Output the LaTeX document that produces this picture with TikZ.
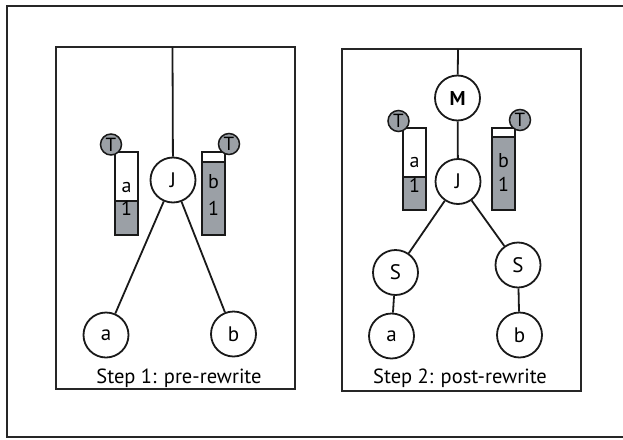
\documentclass[tikz,border=0pt]{standalone}
\usepackage{fontspec}
\setmainfont{PT Sans}
\definecolor{cellgray}{RGB}{155,160,166}
\begin{document}
\begin{tikzpicture}[x=1pt,y=-1pt,
  frame/.style={draw=black!85, line width=2.6pt},
  outer/.style={draw=black!85, line width=2pt},
  vtx/.style={circle, draw=black!90, line width=1.8pt, fill=white, minimum size=45pt, inner sep=0pt, font=\fontsize{21}{21}\selectfont},
  mvtx/.style={vtx, font=\fontsize{20}{20}\selectfont\bfseries},
  tag/.style={circle, draw=black!90, line width=1.5pt, fill=cellgray, minimum size=21pt, inner sep=0pt, font=\fontsize{19}{19}\selectfont},
  cellw/.style={rectangle, draw=black!90, line width=2pt, fill=white, minimum width=23pt, inner sep=0pt},
  cellg/.style={cellw, fill=cellgray},
  celltext/.style={anchor=base, inner sep=0pt, font=\fontsize{20}{20}\selectfont},
  edge/.style={draw=black!90, line width=1.8pt},
  caption/.style={anchor=base, inner sep=0pt, font=\fontsize{20.5}{20.5}\selectfont}]
\useasboundingbox (0,0) rectangle (623,439);

% outer frame (its right side runs past the page edge) and the two panels
\draw[outer] (6.5,5.5) rectangle (630,436.5);
\draw[frame] (56,47) rectangle (295,389);
\draw[frame] (342,49) rectangle (581,391);

% ---------- Step 1 ----------
\coordinate (top1) at (172.5,47);
\node[vtx] (J1) at (173,180) {J};
\node[vtx] (a1) at (106,335) {a};
\node[vtx] (b1) at (233.5,334) {b};
\draw[edge] (top1) -- (J1);
\draw[edge] (J1) -- (a1);
\draw[edge] (J1) -- (b1);

% tuple cells beside J
\node[cellw, minimum height=49pt] (ca1) at (126.5,176.5) {};
\node[cellg, minimum height=34pt] (cb1) at (126.5,218) {};
\node[celltext] (ta1) at (126.5,192) {a};
\node[celltext] (tn1) at (126.5,215) {1};
\node[tag] (T1) at (111,144.5) {T};

\node[cellw, minimum height=10pt] (cc1) at (213.5,157) {};
\node[cellg, minimum height=73pt] (cd1) at (213.5,198.5) {};
\node[celltext] (tb1) at (213.5,188) {b};
\node[celltext] (tm1) at (213.5,215) {1};
\node[tag] (T2) at (229,144) {T};

\node[caption] (cap1) at (179,383) {Step 1: pre-rewrite};

% ---------- Step 2 ----------
\coordinate (top2) at (458,49);
\node[mvtx] (M2) at (457.5,98) {M};
\node[vtx] (J2) at (458,181.5) {J};
\node[vtx] (S2a) at (395.5,272.5) {S};
\node[vtx] (S2b) at (518,265) {S};
\node[vtx] (a2) at (391.5,336) {a};
\node[vtx] (b2) at (519.5,335) {b};
\draw[edge] (top2) -- (M2);
\draw[edge] (M2) -- (J2);
\draw[edge] (J2) -- (S2a);
\draw[edge] (J2) -- (S2b);
\draw[edge] (S2a) -- (a2);
\draw[edge] (S2b) -- (b2);

\node[cellw, minimum height=49pt] (ca2) at (414.5,152.5) {};
\node[cellg, minimum height=33pt] (cb2) at (414.5,193.5) {};
\node[celltext] (ta2) at (414.5,167) {a};
\node[celltext] (tn2) at (414.5,192) {1};
\node[tag] (T3) at (398.5,121) {T};

\node[cellw, minimum height=9pt] (cc2) at (503.5,132.5) {};
\node[cellg, minimum height=73pt] (cd2) at (503.5,173.5) {};
\node[celltext] (tb2) at (503.5,167) {b};
\node[celltext] (tm2) at (503.5,191) {1};
\node[tag] (T4) at (520,120) {T};

\node[caption] (cap2) at (460,383) {Step 2: post-rewrite};
\end{tikzpicture}
\end{document}
